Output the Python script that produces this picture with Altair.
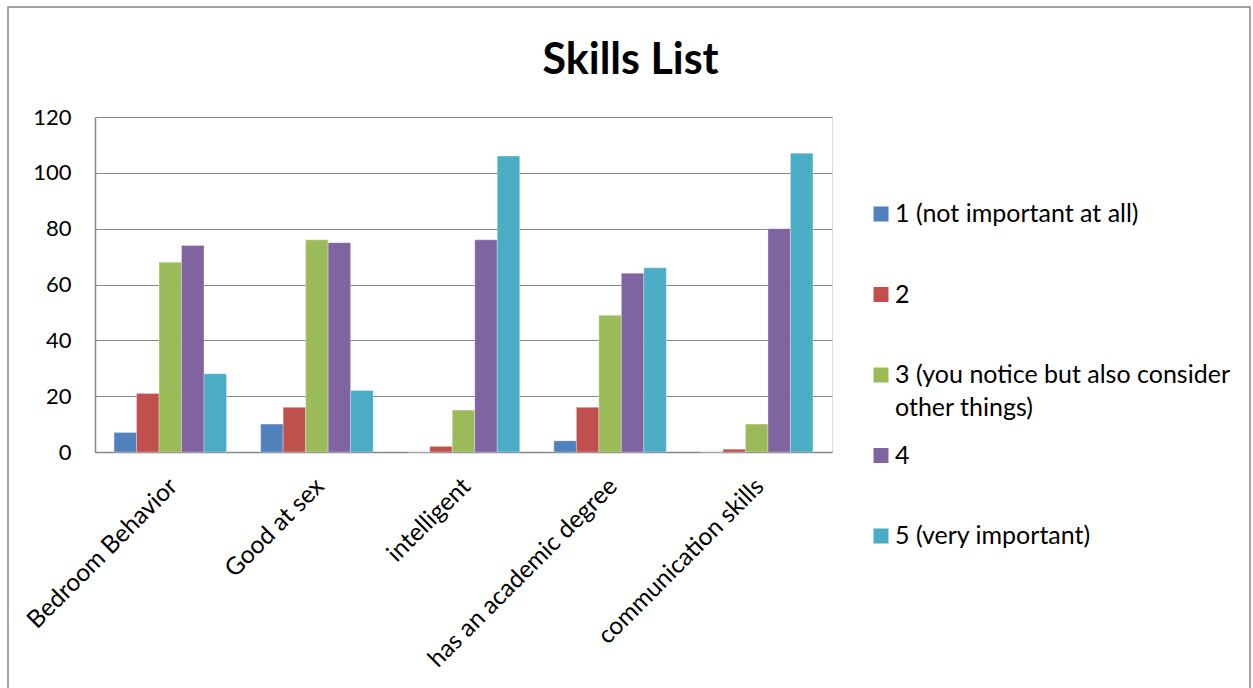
import altair as alt
import pandas as pd

categories = ["Bedroom Behavior", "Good at sex", "intelligent", "has an academic degree", "communication skills"]
series = ["1 (not important at all)", "2", "3 (you notice but also consider other things)", "4", "5 (very important)"]
legend_labels = ["1 (not important at all)", "2", "3 (you notice but also consider\nother things)", "4", "5 (very important)"]
s1 = [7, 10, 0, 4, 0]
s2 = [21, 16, 2, 16, 1]
s3 = [68, 76, 15, 49, 10]
s4 = [74, 75, 76, 64, 80]
s5 = [28, 22, 106, 66, 107]
colors = ["#4F81BD", "#C0504D", "#9BBB59", "#8064A2", "#4BACC6"]

rows = []
for name, vals in zip(series, [s1, s2, s3, s4, s5]):
    for c, v in zip(categories, vals):
        rows.append({"category": c, "series": name, "value": v})
df = pd.DataFrame(rows)
leg_df = pd.DataFrame({"series": series, "label": legend_labels, "row": list(range(len(series)))})

FONT = "Lato"
W, H = 737, 335
color_scale = alt.Scale(domain=series, range=colors)

bars = alt.Chart(df).mark_bar(stroke="white", strokeWidth=0.5, strokeOpacity=0.6).encode(
    x=alt.X("category:N", sort=categories, title=None,
            scale=alt.Scale(paddingInner=0.233, paddingOuter=0.13),
            axis=alt.Axis(labelAngle=-45, labelFontSize=24.5, labelFont=FONT, labelColor="#000000",
                          domainColor="#868686", domainWidth=1.5, ticks=False, labelPadding=22,
                          labelOffset=-5, labelLimit=400, grid=False)),
    xOffset=alt.XOffset("series:N", sort=series),
    y=alt.Y("value:Q", title=None,
            scale=alt.Scale(domain=[0, 120], nice=False),
            axis=alt.Axis(values=[0, 20, 40, 60, 80, 100, 120], labelFontSize=22, labelFont=FONT,
                          labelColor="#000000", domainColor="#868686", domainWidth=1.5,
                          ticks=False, labelPadding=24, gridColor="#868686", gridWidth=1)),
    color=alt.Color("series:N", sort=series, scale=color_scale, legend=None),
)

leg_y = alt.Y("row:Q", scale=alt.Scale(domain=[0, 4], range=[97, 419]), axis=None)
leg_sym = alt.Chart(leg_df).mark_square(size=225, opacity=1).encode(
    x=alt.value(786), y=leg_y,
    color=alt.Color("series:N", sort=series, scale=color_scale, legend=None),
)
leg_txt = alt.Chart(leg_df).mark_text(align="left", baseline="middle", font=FONT, fontSize=25,
                                      color="#000000", lineBreak="\n", lineHeight=33).encode(
    x=alt.value(800), y=leg_y, text="label:N",
)

border = alt.Chart(pd.DataFrame({"a": [0]})).mark_rect(fill=None, stroke="#868686", strokeWidth=1.5).encode(
    x=alt.value(-87), x2=alt.value(1155), y=alt.value(-110), y2=alt.value(700)
)

chart = alt.layer(bars, leg_sym, leg_txt, border).resolve_scale(y="independent").properties(
    width=W, height=H,
    autosize=alt.AutoSizeParams(type="none"),
    padding={"left": 95, "top": 117, "right": 421, "bottom": 236},
    title=alt.TitleParams("Skills List", font=FONT, fontSize=43, fontWeight="bold", color="#000000",
                          anchor="middle", dx=167, offset=-111, baseline="alphabetic"),
).configure_view(stroke=None).configure(background="white")

chart.save("out.html", embed_options={"renderer": "svg", "actions": False})
